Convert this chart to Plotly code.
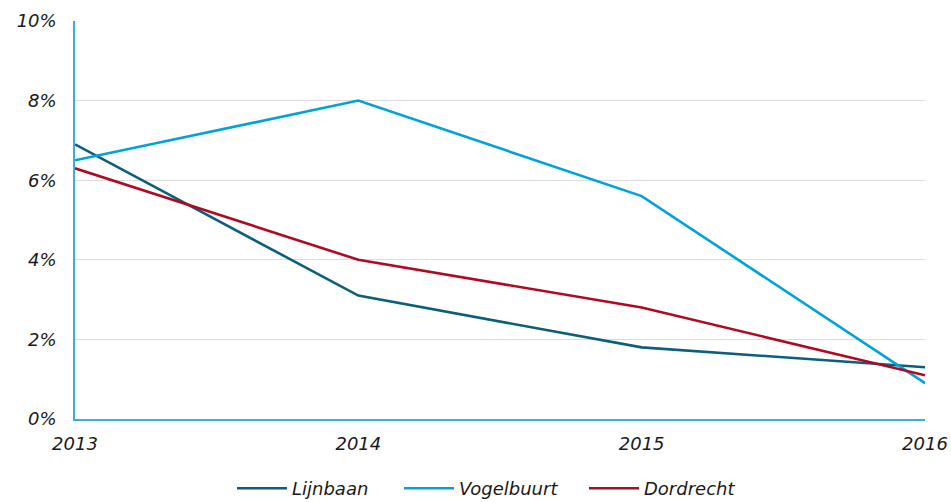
import plotly.graph_objects as go

years = [2013, 2014, 2015, 2016]
lijnbaan = [6.9, 3.1, 1.8, 1.3]
vogelbuurt = [6.5, 8.0, 5.6, 0.9]
dordrecht = [6.3, 4.0, 2.8, 1.1]
y_ticks = [0, 2, 4, 6, 8, 10]
y_labels = ["0%", "2%", "4%", "6%", "8%", "10%"]

FONT = "Verdana, DejaVu Sans, sans-serif"
SIZE = 18

series = [("Lijnbaan", lijnbaan, "#0b5f7c", "legend", 237),
          ("Vogelbuurt", vogelbuurt, "#00a3d8", "legend2", 404),
          ("Dordrecht", dordrecht, "#b00a22", "legend3", 589)]

fig = go.Figure()
for name, vals, col, leg, _ in series:
    fig.add_trace(go.Scatter(x=years, y=vals, name=name, mode="lines", legend=leg,
                             showlegend=True, line=dict(color=col, width=2.6)))

L, R, T, B = 75, 26, 21, 83
W, H = 951, 502
pw = W - L - R
ph = H - T - B

legends = {}
for name, vals, col, leg, px in series:
    legends[leg] = dict(orientation="h", x=(px - 5 - L) / pw, xanchor="left",
                        y=-(470 - (H - B)) / ph, yanchor="top",
                        font=dict(family=FONT, size=SIZE, style="italic", color="#1a1a1a"),
                        itemwidth=50, bgcolor="rgba(0,0,0,0)", visible=True)

fig.update_layout(
    width=W, height=H,
    showlegend=True,
    margin=dict(l=L, r=R, t=T, b=B, autoexpand=False),
    paper_bgcolor="white", plot_bgcolor="white",
    font=dict(family=FONT, size=SIZE, color="#1a1a1a", style="italic"),
    xaxis=dict(range=[2013, 2016], tickmode="array", tickvals=years,
               ticktext=[str(y) for y in years], automargin=False,
               showgrid=False, zeroline=False, showline=True, linecolor="#3aaedc",
               linewidth=1.5, ticks="", ticklabelstandoff=8,
               tickfont=dict(family=FONT, size=SIZE, style="italic", color="#1a1a1a")),
    yaxis=dict(range=[0, 10], tickmode="array", tickvals=y_ticks, ticktext=y_labels,
               automargin=False,
               showgrid=True, gridcolor="#dcdcdc", gridwidth=1, zeroline=False,
               showline=True, linecolor="#3aaedc", linewidth=1.5, ticks="",
               ticklabelstandoff=13,
               tickfont=dict(family=FONT, size=SIZE, style="italic", color="#1a1a1a")),
    **legends,
)

fig.write_html("out.html", config={"displayModeBar": False},
               post_script="document.body.style.margin='0';document.body.style.padding='0';")
